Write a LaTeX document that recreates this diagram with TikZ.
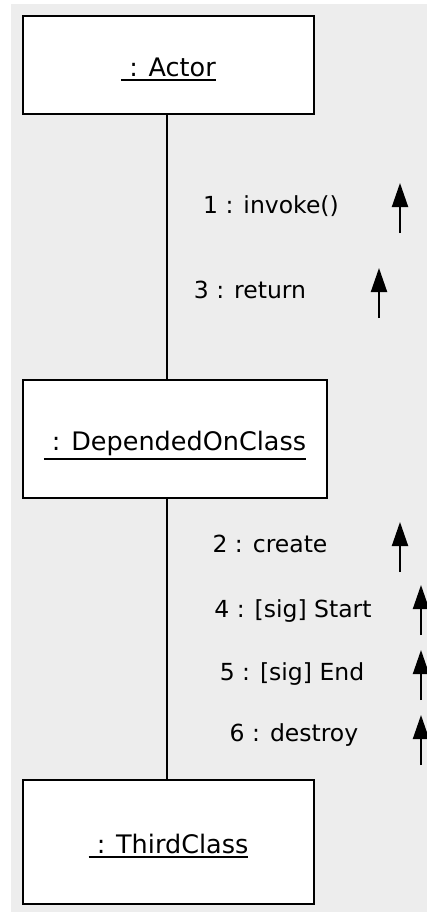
\documentclass[tikz,border=0pt]{standalone}
\usepackage{fontspec}
\setmainfont{DejaVu Sans}
\usetikzlibrary{arrows.meta}
\definecolor{bggray}{HTML}{EDEDED}
\newcommand\ulin[1]{\vtop{\hbox{#1}\kern2pt\hrule height 1.8pt}}
\begin{document}
\begin{tikzpicture}[x=1pt,y=-1pt,
  obj/.style={draw=black, line width=2pt, fill=white, inner sep=0pt,
    text height=23pt, text depth=0pt,
    font=\fontsize{25.5}{28}\selectfont},
  msg/.style={font=\fontsize{23.5}{28}\selectfont, anchor=base, inner sep=0pt},
  link/.style={line width=2pt},
  flow/.style={line width=2pt, -{Triangle[length=24pt,width=16pt]}}]
\useasboundingbox (0,0) rectangle (427,913);
\fill[bggray] (11,4) rectangle (427,912);
\node[obj, minimum width=291pt, minimum height=98pt] (actor) at (168.5,65) {\ulin{\ : Actor}};
\node[obj, minimum width=304pt, minimum height=118pt] (doc) at (175,439) {\ulin{\ : DependedOnClass}};
\node[obj, minimum width=291pt, minimum height=124pt] (third) at (168.5,842) {\ulin{\ : ThirdClass}};
\coordinate (lx) at (167,0);
\draw[link] (actor.south -| lx) -- (doc.north -| lx);
\draw[link] (doc.south -| lx) -- (third.north -| lx);
\node[msg] (m1) at (271,213) {1 : invoke()};
\node[msg] (m3) at (250,298) {3 : return};
\node[msg] (m2) at (270,552) {2 : create};
\node[msg] (m4) at (293,617) {4 : [sig] Start};
\node[msg] (m5) at (292,680) {5 : [sig] End};
\node[msg] (m6) at (294,741) {6 : destroy};
\draw[flow] (400,233) -- (400,183);
\draw[flow] (379,318) -- (379,268);
\draw[flow] (400,572) -- (400,522);
\draw[flow] (421,635) -- (421,585);
\draw[flow] (421,700) -- (421,650);
\draw[flow] (421,765) -- (421,715);
\end{tikzpicture}
\end{document}
